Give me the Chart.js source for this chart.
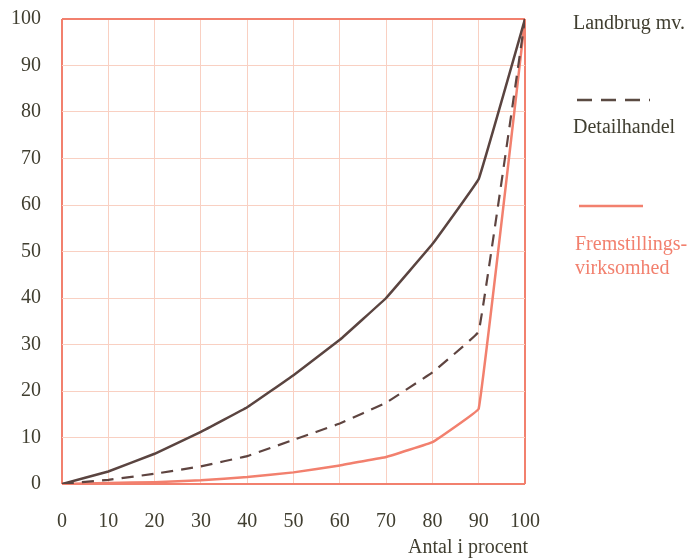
<!DOCTYPE html>
<html>
<head>
<meta charset="utf-8">
<script src="https://cdn.jsdelivr.net/npm/chart.js@4"></script>
<style>
  body { margin: 0; background: #fff; }
  #wrap { width: 690px; height: 559px; }
</style>
</head>
<body>
<div id="wrap"><canvas id="myChart" width="690" height="559"></canvas></div>
<script>
const xValues = [0, 10, 20, 30, 40, 50, 60, 70, 80, 90, 100]
const landbrug = [0, 2.7, 6.5, 11.2, 16.5, 23.4, 31, 40, 51.6, 65.6, 100]
const detailhandel = [0, 0.9, 2.2, 3.8, 6, 9.5, 13, 17.5, 24, 32.8, 100]
const fremstilling = [0, 0.2, 0.4, 0.8, 1.5, 2.5, 4, 5.8, 9, 16.2, 100]
const legendNames = ['Landbrug mv.', 'Detailhandel', 'Fremstillings-', 'virksomhed']
const xTitle = 'Antal i procent'

const serif = "'Liberation Serif', 'DejaVu Serif', serif"
const textColor = '#403e30'
const salmon = '#f2806e'

function pts(arr) {
    return xValues.map((x, i) => ({ x: x, y: arr[i] }))
}

// legend and axis title drawn by hand, like the scanned original
const sideLegend = {
    id: 'sideLegend',
    afterDraw(chart) {
        const c = chart.ctx
        c.save()
        c.font = '20px ' + serif
        c.textBaseline = 'alphabetic'
        c.fillStyle = textColor
        c.fillText(legendNames[0], 573, 29)
        c.strokeStyle = '#5a4a42'
        c.lineWidth = 2.5
        c.setLineDash([15, 9])
        c.beginPath(); c.moveTo(577, 100); c.lineTo(650, 100); c.stroke()
        c.setLineDash([])
        c.fillText(legendNames[1], 573, 133)
        c.textAlign = 'right'
        c.fillText(xTitle, chart.chartArea.right + 3, 553)
        c.textAlign = 'left'
        c.strokeStyle = salmon
        c.beginPath(); c.moveTo(579, 206); c.lineTo(643, 206); c.stroke()
        c.fillStyle = salmon
        c.fillText(legendNames[2], 575, 250)
        c.fillText(legendNames[3], 575, 274)
        c.restore()
    }
}

const gridColor = c => (c.tick.value === 0 || c.tick.value === 100) ? salmon : '#f9d0c2'
const gridWidth = c => (c.tick.value === 0 || c.tick.value === 100) ? 2 : 1

const ctx = document.getElementById('myChart')
const chart = new Chart(ctx, {
    type: 'line',
    data: {
        datasets: [
            {
                label: legendNames[0],
                data: pts(landbrug),
                borderColor: '#5a4440',
                borderWidth: 2.5,
                pointRadius: 0,
                tension: 0.05
            },
            {
                label: legendNames[1],
                data: pts(detailhandel),
                borderColor: '#5e4440',
                borderWidth: 2.2,
                borderDash: [12, 8],
                pointRadius: 0,
                tension: 0.05
            },
            {
                label: legendNames[2] + legendNames[3],
                data: pts(fremstilling),
                borderColor: salmon,
                borderWidth: 2.5,
                pointRadius: 0,
                tension: 0.05
            }
        ]
    },
    options: {
        responsive: false,
        animation: false,
        layout: { padding: { top: 19, right: 165, left: 0, bottom: 0 } },
        plugins: { legend: { display: false }, tooltip: { enabled: false } },
        scales: {
            x: {
                type: 'linear',
                min: 0, max: 100,
                ticks: { stepSize: 10, padding: 26, color: textColor, font: { family: serif, size: 20 } },
                grid: { drawTicks: false, color: gridColor, lineWidth: gridWidth },
                border: { display: false },
                afterFit: s => { s.height = 75; s.paddingLeft = 0; s.paddingRight = 0 }
            },
            y: {
                min: 0, max: 100,
                ticks: { stepSize: 10, padding: 21, color: textColor, font: { family: serif, size: 20 } },
                grid: { drawTicks: false, color: gridColor, lineWidth: gridWidth },
                border: { display: false },
                afterFit: s => { s.width = 62; s.paddingTop = 0; s.paddingBottom = 0 }
            }
        }
    },
    plugins: [sideLegend]
})
</script>
</body>
</html>
